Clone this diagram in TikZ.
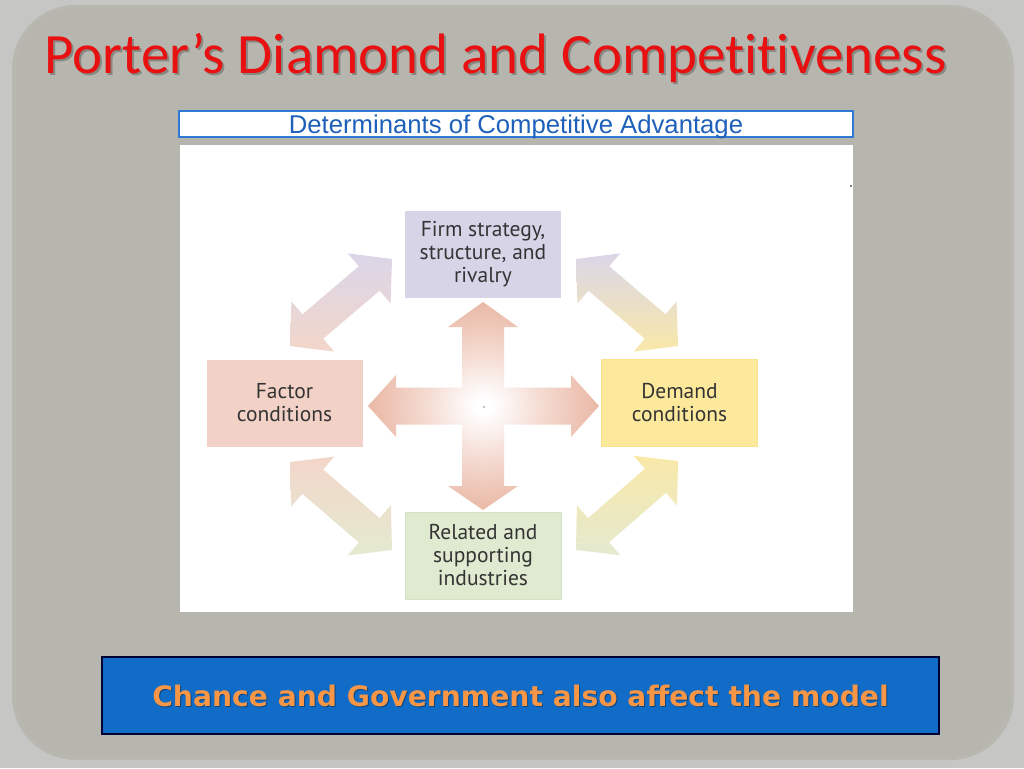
\documentclass[tikz,border=0pt]{standalone}
\usepackage{fontspec}
\setmainfont{Carlito}[Ligatures={NoCommon}]
\newfontfamily\arialf{Liberation Sans}
\newfontfamily\boxf{PT Sans}
\newfontfamily\verdf{DejaVu Sans}
\usetikzlibrary{calc}

\definecolor{bgout}{RGB}{198,198,196}
\definecolor{bgpanel}{RGB}{182,182,174}
\definecolor{titlered}{RGB}{232,16,16}
\definecolor{subblue}{RGB}{30,96,186}
\definecolor{subline}{RGB}{50,120,215}
\definecolor{boxblue}{RGB}{16,108,198}
\definecolor{txtorange}{RGB}{247,150,70}
\definecolor{lav}{RGB}{216,212,232}
\definecolor{peach}{RGB}{242,210,198}
\definecolor{yel}{RGB}{253,233,156}
\definecolor{yelline}{RGB}{248,226,140}
\definecolor{grn}{RGB}{223,234,208}
\definecolor{grnline}{RGB}{212,226,196}
\definecolor{boxtext}{RGB}{52,52,52}
\definecolor{crossc}{RGB}{226,158,132}
\definecolor{alav}{RGB}{218,214,232}
\definecolor{apeach}{RGB}{243,214,202}
\definecolor{ayel}{RGB}{249,232,168}
\definecolor{agrn}{RGB}{228,234,208}

\pgfdeclareradialshading{crossshade}{\pgfpoint{0bp}{0bp}}{color(0bp)=(white); color(2bp)=(white); color(12bp)=(crossc!35!white); color(34bp)=(crossc); color(50bp)=(crossc)}

\def\arrhl{30pt}
\def\arrhw{33pt}
\def\arrsw{16pt}
\newcommand\dblarr[4]{%
  \coordinate (#1ha) at ($(#2)!\arrhl!(#3)$);
  \coordinate (#1hb) at ($(#3)!\arrhl!(#2)$);
  \shade[#4] (#2)
    -- ($(#1ha)!\arrhw!90:(#3)$) -- ($(#1ha)!\arrsw!90:(#3)$)
    -- ($(#1hb)!\arrsw!-90:(#2)$) -- ($(#1hb)!\arrhw!-90:(#2)$)
    -- (#3)
    -- ($(#1hb)!\arrhw!90:(#2)$) -- ($(#1hb)!\arrsw!90:(#2)$)
    -- ($(#1ha)!\arrsw!-90:(#3)$) -- ($(#1ha)!\arrhw!-90:(#3)$)
    -- cycle;
}

\tikzset{
  factorbox/.style={minimum width=156pt, minimum height=87pt, inner sep=2pt,
    align=center, text=boxtext, font=\boxf\fontsize{21.5}{23}\selectfont},
}

\begin{document}
\begin{tikzpicture}[x=1pt,y=-1pt]
\useasboundingbox (0,0) rectangle (1024,768);
% background
\fill[bgout] (0,0) rectangle (1024,768);
\fill[bgpanel!85!bgout, rounded corners=64pt] (12,5) rectangle (1014,760);
\fill[bgpanel, rounded corners=60pt] (16,8) rectangle (1010,756);

% title
\node[anchor=base, inner sep=0, text=black, opacity=0.25, font=\fontsize{57}{60}\selectfont] (titleshadow) at (497.5,75) {Porter’s Diamond and Competitiveness};
\node[anchor=base, inner sep=0, text=titlered, font=\fontsize{57}{60}\selectfont] (title) at (495.5,73) {Porter’s Diamond and Competitiveness};

% subtitle box
\fill[white] (179,111) rectangle (853,137);
\draw[subline, line width=1.2pt] (179,111) rectangle (853,137);
\node[anchor=base, inner sep=0, text=subblue, font=\arialf\fontsize{25.7}{28}\selectfont] (subtitle) at (516,133) {Determinants of Competitive Advantage};

% white figure
\fill[white] (180,145) rectangle (853,612);

% boxes
\node[factorbox, fill=lav] (firm) at (483,254.5) {Firm strategy,\\structure, and\\rivalry};
\node[factorbox, fill=peach] (factor) at (284.5,403) {Factor\\conditions};
\node[factorbox, fill=yel, draw=yelline, line width=0.8pt] (demand) at (679.5,403) {Demand\\conditions};
\node[factorbox, fill=grn, draw=grnline, line width=0.8pt] (related) at (483,555.5) {Related and\\supporting\\industries};

% diagonal arrow ends
\coordinate (ula) at (290,346);
\coordinate (ulb) at (392,259);
\coordinate (ura) at (576,259);
\coordinate (urb) at (678,346);
\coordinate (lla) at (290,462);
\coordinate (llb) at (392,550);
\coordinate (lra) at (678,461);
\coordinate (lrb) at (576,550);

\dblarr{ul}{ula}{ulb}{top color=alav, bottom color=apeach}
\dblarr{ur}{ura}{urb}{top color=alav, bottom color=ayel}
\dblarr{ll}{lla}{llb}{top color=apeach, bottom color=agrn}
\dblarr{lr}{lra}{lrb}{top color=ayel, bottom color=agrn}

% central cross
\shade[shading=crossshade]
 (483,302) -- (518,327) -- (504,327) -- (504,387.5) -- (571,387.5) -- (571,375)
 -- (599,406) -- (571,437) -- (571,424.5) -- (504,424.5) -- (504,486) -- (518,486)
 -- (483,510) -- (448,486) -- (462,486) -- (462,424.5) -- (396,424.5) -- (396,437)
 -- (368,406) -- (396,375) -- (396,387.5) -- (462,387.5) -- (462,327) -- (448,327) -- cycle;
\fill[black] (484,407) circle (0.7);
\fill[black] (851,186) circle (0.9);

% bottom box
\fill[boxblue] (102,657) rectangle (939,734);
\draw[black!80!blue, line width=1.2pt] (102,657) rectangle (939,734);
\node[anchor=base, inner sep=0, text=black, opacity=0.35, font=\verdf\bfseries\fontsize{28.2}{32}\selectfont] (noteshadow) at (521.5,707.5) {Chance and Government also affect the model};
\node[anchor=base, inner sep=0, text=txtorange, font=\verdf\bfseries\fontsize{28.2}{32}\selectfont] (note) at (520.5,706.5) {Chance and Government also affect the model};
\end{tikzpicture}
\end{document}
